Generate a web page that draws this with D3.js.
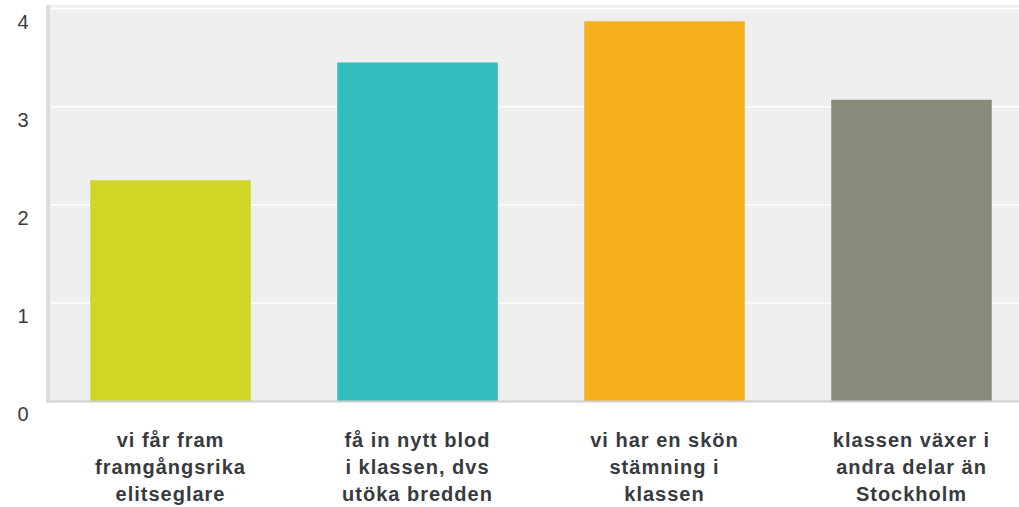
<!DOCTYPE html>
<html>
<head>
<meta charset="utf-8">
<script src="https://cdn.jsdelivr.net/npm/d3@7"></script>
<style>
  body { margin: 0; background: #fff; }
  svg { display: block; }
</style>
</head>
<body>
<div id="chart"></div>
<script>
// chart data
const categories = [
    ["vi får fram", "framgångsrika", "elitseglare"],
    ["få in nytt blod", "i klassen, dvs", "utöka bredden"],
    ["vi har en skön", "stämning i", "klassen"],
    ["klassen växer i", "andra delar än", "Stockholm"]
];
const values = [2.25, 3.45, 3.87, 3.07];
const colors = ["#cfd626", "#33bdbf", "#f6b01e", "#8a8a7a"];
const yTicks = [0, 1, 2, 3, 4];

const width = 1019, height = 507;
// plot area (the band range runs past the right edge like the source crop)
const plot = {left: 47, top: 5, bottom: 401, step: 247};

const svg = d3.select("#chart")
    .append("svg")
    .attr("width", width)
    .attr("height", height);

const x = d3.scaleBand()
    .domain(d3.range(values.length))
    .range([plot.left, plot.left + plot.step * values.length])
    .paddingInner(0.35)
    .paddingOuter(0.175);

const y = d3.scaleLinear()
    .domain([0, 4])
    .range([plot.bottom, 8.5]);

// background
svg.append("rect")
    .attr("x", plot.left)
    .attr("y", plot.top)
    .attr("width", width - plot.left)
    .attr("height", plot.bottom - plot.top)
    .attr("fill", "#efefef");

// gridlines
svg.append("g")
    .selectAll("line")
    .data(yTicks.filter(d => d > 0))
    .enter().append("line")
    .attr("x1", plot.left)
    .attr("x2", width)
    .attr("y1", d => y(d))
    .attr("y2", d => y(d))
    .attr("stroke", "#fff")
    .attr("stroke-width", 1.5);

// bars
svg.append("g")
    .selectAll("rect")
    .data(values)
    .enter().append("rect")
    .attr("x", (d, i) => x(i))
    .attr("y", d => y(d))
    .attr("width", x.bandwidth())
    .attr("height", d => y(0) - y(d))
    .attr("fill", (d, i) => colors[i]);

// left axis bar and baseline
svg.append("rect")
    .attr("x", 46)
    .attr("y", plot.top)
    .attr("width", 4)
    .attr("height", plot.bottom - plot.top + 1)
    .attr("fill", "#dcdcdc");

svg.append("line")
    .attr("x1", 46)
    .attr("x2", width)
    .attr("y1", plot.bottom + 0.5)
    .attr("y2", plot.bottom + 0.5)
    .attr("stroke", "#cfcfcf")
    .attr("stroke-width", 2);

// y tick labels (sit a little below their gridlines)
svg.append("g")
    .selectAll("text")
    .data(yTicks)
    .enter().append("text")
    .attr("x", 23)
    .attr("y", d => y(d) + 20)
    .attr("text-anchor", "middle")
    .style("font-family", "'Liberation Sans', Arial, sans-serif")
    .style("font-size", "20px")
    .style("fill", "#3b3b3b")
    .text(d => d);

// category labels
const labels = svg.append("g")
    .selectAll("text")
    .data(categories)
    .enter().append("text")
    .attr("text-anchor", "middle")
    .style("font-family", "'Liberation Sans', Arial, sans-serif")
    .style("font-size", "20px")
    .style("font-weight", "bold")
    .style("letter-spacing", "1px")
    .style("fill", "#383a3e");

labels.selectAll("tspan")
    .data((d, i) => d.map(line => ({line: line, i: i})))
    .enter().append("tspan")
    .attr("x", d => x(d.i) + x.bandwidth() / 2)
    .attr("y", (d, j) => 447 + j * 27)
    .text(d => d.line);
</script>
</body>
</html>
